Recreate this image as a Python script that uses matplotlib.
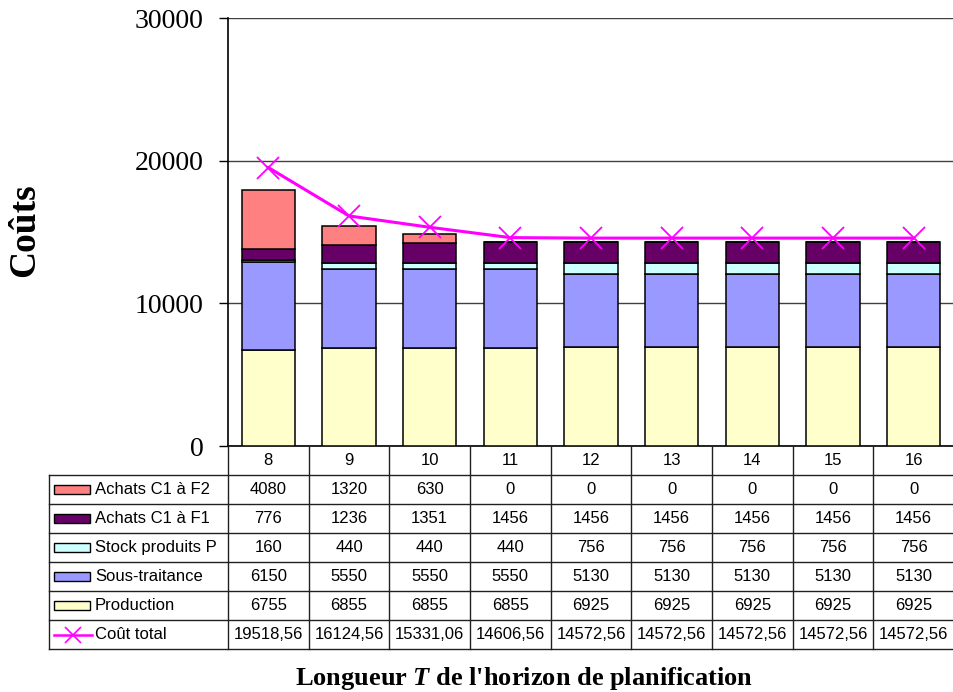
import numpy as np
import matplotlib.pyplot as plt
from matplotlib.patches import Rectangle

# data
horizons = [8, 9, 10, 11, 12, 13, 14, 15, 16]
production = [6755, 6855, 6855, 6855, 6925, 6925, 6925, 6925, 6925]
sous_traitance = [6150, 5550, 5550, 5550, 5130, 5130, 5130, 5130, 5130]
stock_p = [160, 440, 440, 440, 756, 756, 756, 756, 756]
achats_f1 = [776, 1236, 1351, 1456, 1456, 1456, 1456, 1456, 1456]
achats_f2 = [4080, 1320, 630, 0, 0, 0, 0, 0, 0]
cout_total = [19518.56, 16124.56, 15331.06, 14606.56, 14572.56,
              14572.56, 14572.56, 14572.56, 14572.56]

serie_names = ["Production", "Sous-traitance", "Stock produits P",
               "Achats C1 à F1", "Achats C1 à F2"]
serie_values = [production, sous_traitance, stock_p, achats_f1, achats_f2]
serie_colors = ["#FFFFCC", "#9999FF", "#CCFFFF", "#660066", "#FF8080"]
line_color = "#FF00FF"

W, H = 954, 692
serif = "Liberation Serif"
sans = "Liberation Sans"
plt.rcParams["mathtext.fontset"] = "custom"
plt.rcParams["mathtext.it"] = "Liberation Serif:italic:bold"
plt.rcParams["mathtext.rm"] = "Liberation Serif:bold"

fig = plt.figure(figsize=(W / 100, H / 100), dpi=100)

# main chart area
ax = fig.add_axes([228 / W, 1 - 446 / H, (954 - 228) / W, (446 - 18) / H])
x = np.arange(len(horizons))
bottom = np.zeros(len(horizons))
for vals, col in zip(serie_values, serie_colors):
    ax.bar(x, vals, 0.66, bottom=bottom, color=col, edgecolor="black",
           linewidth=1.1, zorder=3)
    bottom = bottom + np.array(vals)
ax.plot(x, cout_total, color=line_color, lw=2.2, marker="x", ms=16,
        mew=1.3, zorder=4)

ax.set_xlim(-0.5, len(horizons) - 0.5)
ax.set_ylim(0, 30000)
ax.set_yticks([0, 10000, 20000, 30000])
ax.set_xticks([])
ax.yaxis.grid(True, color="#404040", linewidth=1)
ax.set_axisbelow(True)
for s in ["top", "right"]:
    ax.spines[s].set_visible(False)
ax.spines["left"].set_linewidth(1.2)
ax.spines["bottom"].set_linewidth(1.2)
ax.tick_params(axis="y", length=6.5, width=1, pad=11)
for lbl in ax.get_yticklabels():
    lbl.set_fontfamily(serif)
    lbl.set_fontsize(20)

fig.text(25 / W, 1 - 230 / H, "Coûts", rotation=90, ha="center",
         va="center", fontfamily=serif, fontweight="bold", fontsize=27)

# data table under the chart
colw = (954 - 228) / len(horizons)
xl = -0.5 - (228 - 49) / colw
tax = fig.add_axes([49 / W, 1 - 649 / H, (954 - 49) / W, (649 - 446) / H])
tax.set_xlim(xl, len(horizons) - 0.5)
tax.set_ylim(7, 0)
tax.axis("off")

fs = 12
lc = "#202020"
for i in range(len(horizons)):
    tax.plot([i - 0.5, i - 0.5], [0, 7], color=lc, lw=1, clip_on=False)
tax.plot([xl, xl], [1, 7], color=lc, lw=1, clip_on=False)
for r in range(1, 8):
    tax.plot([xl, len(horizons) - 0.5], [r, r], color=lc, lw=1, clip_on=False)

for i, h in enumerate(horizons):
    tax.text(i, 0.5, str(h), ha="center", va="center", fontfamily=sans,
             fontsize=fs)

rows = list(zip(serie_names, serie_values, serie_colors))[::-1]
px = 1 / colw
for r, (name, vals, col) in enumerate(rows, start=1):
    y = r + 0.5
    tax.add_patch(Rectangle((xl + 5 * px, y - 0.16), 36 * px, 0.32,
                            facecolor=col, edgecolor="black", lw=1,
                            clip_on=False))
    tax.text(xl + 46 * px, y, name, ha="left", va="center", fontfamily=sans,
             fontsize=fs)
    for i, v in enumerate(vals):
        tax.text(i, y, str(v), ha="center", va="center", fontfamily=sans,
                 fontsize=fs)

y = len(rows) + 1.5
tax.plot([xl + 5 * px, xl + 43 * px], [y, y], color=line_color, lw=1.8,
         clip_on=False)
tax.plot([xl + 24 * px], [y], color=line_color, marker="x", ms=11, mew=1.2,
         clip_on=False)
tax.text(xl + 46 * px, y, "Coût total", ha="left", va="center",
         fontfamily=sans, fontsize=fs)
for i, v in enumerate(cout_total):
    tax.text(i, y, f"{v:.2f}".replace(".", ","), ha="center", va="center",
             fontfamily=sans, fontsize=fs)

fig.text(524 / W, 1 - 678 / H,
         "Longueur $\\mathit{T}$ de l'horizon de planification",
         ha="center", va="center", fontfamily=serif, fontweight="bold",
         fontsize=19)

fig.savefig("out.png", dpi=100)
